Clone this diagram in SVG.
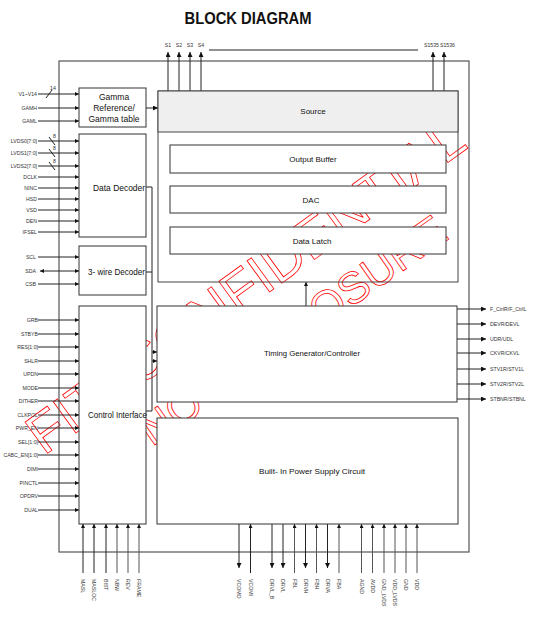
<svg xmlns="http://www.w3.org/2000/svg" width="542" height="623" viewBox="0 0 542 623">
<defs>
<style>
.bx{fill:#fff;stroke:#333;stroke-width:1}
.ln{stroke:#222;stroke-width:1;fill:none}
.lg{stroke:#555;stroke-width:1;fill:none}
.t{font-family:"Liberation Sans",Arial,sans-serif;fill:#111}
.s{font-family:"Liberation Sans",Arial,sans-serif;font-size:5.2px;fill:#333}
.wm{font-family:"Liberation Sans",Arial,sans-serif;fill:none;stroke:#f00;stroke-width:0.8}
</style>
<marker id="as" viewBox="0 0 6 6" refX="6" refY="3" markerWidth="4" markerHeight="4" orient="auto-start-reverse" markerUnits="userSpaceOnUse"><path d="M0,0L6,3L0,6z" fill="#111"/></marker>
<marker id="am" viewBox="0 0 6 6" refX="6" refY="3" markerWidth="6" markerHeight="5" orient="auto-start-reverse" markerUnits="userSpaceOnUse"><path d="M0,0L6,3L0,6z" fill="#111"/></marker>
</defs>
<rect width="542" height="623" fill="#fff"/>
<text class="t" x="248" y="23.5" font-size="16" font-weight="bold" text-anchor="middle" textLength="127" lengthAdjust="spacingAndGlyphs">BLOCK DIAGRAM</text>

<g id="watermark">
<text class="wm" font-size="56" transform="translate(44,456) rotate(-36)">FITI CONFIDENTIAL</text>
<text class="wm" font-size="44" transform="translate(152,447) rotate(-35)">NO DISCLOSURE</text>
</g>

<rect id="frame" x="59" y="61" width="410" height="491" fill="none" stroke="#555" stroke-width="1.2"/>

<g id="connectors">
<line class="ln" x1="38" y1="94" x2="79" y2="94" marker-end="url(#as)"/>
<line class="ln" x1="46" y1="98" x2="52" y2="90"/>
<text class="s" x="50" y="90">14</text>
<line class="ln" x1="38" y1="108" x2="79" y2="108" marker-end="url(#as)"/>
<line class="ln" x1="38" y1="121" x2="79" y2="121" marker-end="url(#as)"/>
<line class="ln" x1="146" y1="108" x2="158" y2="108" marker-end="url(#am)"/>
<line class="ln" x1="38" y1="141" x2="79" y2="141" marker-end="url(#as)"/>
<line class="ln" x1="49" y1="137" x2="55" y2="145"/>
<text class="s" x="53" y="138">8</text>
<line class="ln" x1="38" y1="153" x2="79" y2="153" marker-end="url(#as)"/>
<line class="ln" x1="49" y1="149" x2="55" y2="157"/>
<text class="s" x="53" y="150">8</text>
<line class="ln" x1="38" y1="166" x2="79" y2="166" marker-end="url(#as)"/>
<line class="ln" x1="49" y1="162" x2="55" y2="170"/>
<text class="s" x="53" y="163">8</text>
<line class="ln" x1="38" y1="177" x2="79" y2="177" marker-end="url(#as)"/>
<line class="ln" x1="38" y1="188" x2="79" y2="188" marker-end="url(#as)"/>
<line class="ln" x1="38" y1="199" x2="79" y2="199" marker-end="url(#as)"/>
<line class="ln" x1="38" y1="210" x2="79" y2="210" marker-end="url(#as)"/>
<line class="ln" x1="38" y1="221" x2="79" y2="221" marker-end="url(#as)"/>
<line class="ln" x1="38" y1="232" x2="79" y2="232" marker-end="url(#as)"/>
<line class="ln" x1="38" y1="257" x2="79" y2="257" marker-end="url(#as)"/>
<line class="ln" x1="40" y1="271" x2="79" y2="271" marker-start="url(#as)" marker-end="url(#as)"/>
<line class="ln" x1="38" y1="284" x2="79" y2="284" marker-end="url(#as)"/>
<line class="ln" x1="38" y1="320" x2="79" y2="320" marker-end="url(#as)"/>
<line class="ln" x1="38" y1="334" x2="79" y2="334" marker-end="url(#as)"/>
<line class="ln" x1="38" y1="347" x2="79" y2="347" marker-end="url(#as)"/>
<line class="ln" x1="38" y1="361" x2="79" y2="361" marker-end="url(#as)"/>
<line class="ln" x1="38" y1="374" x2="79" y2="374" marker-end="url(#as)"/>
<line class="ln" x1="38" y1="388" x2="79" y2="388" marker-end="url(#as)"/>
<line class="ln" x1="38" y1="401" x2="79" y2="401" marker-end="url(#as)"/>
<line class="ln" x1="38" y1="415" x2="79" y2="415" marker-end="url(#as)"/>
<line class="ln" x1="38" y1="428" x2="79" y2="428" marker-end="url(#as)"/>
<line class="ln" x1="38" y1="442" x2="79" y2="442" marker-end="url(#as)"/>
<line class="ln" x1="38" y1="455" x2="79" y2="455" marker-end="url(#as)"/>
<line class="ln" x1="38" y1="469" x2="79" y2="469" marker-end="url(#as)"/>
<line class="ln" x1="38" y1="483" x2="79" y2="483" marker-end="url(#as)"/>
<line class="ln" x1="38" y1="496" x2="79" y2="496" marker-end="url(#as)"/>
<line class="ln" x1="38" y1="510" x2="79" y2="510" marker-end="url(#as)"/>
<line class="ln" x1="83" y1="573" x2="83" y2="524" marker-end="url(#as)"/>
<line class="ln" x1="94" y1="573" x2="94" y2="524" marker-end="url(#as)"/>
<line class="ln" x1="106" y1="573" x2="106" y2="524" marker-end="url(#as)"/>
<line class="lg" x1="117" y1="573" x2="117" y2="524" marker-end="url(#as)"/>
<line class="lg" x1="128" y1="573" x2="128" y2="524" marker-end="url(#as)"/>
<line class="lg" x1="139" y1="573" x2="139" y2="524" marker-end="url(#as)"/>
<polyline class="ln" points="146,187 152,187 152,411 146,411"/>
<line class="ln" x1="146" y1="272" x2="152" y2="272"/>
<line class="ln" x1="152" y1="352" x2="157" y2="352" marker-end="url(#as)"/>
<line class="ln" x1="152" y1="361" x2="157" y2="361" marker-end="url(#as)"/>
<line class="ln" x1="306" y1="306" x2="306" y2="282" marker-end="url(#as)"/>
<line class="ln" x1="168" y1="91" x2="168" y2="52" marker-end="url(#am)"/>
<line class="ln" x1="179" y1="91" x2="179" y2="52" marker-end="url(#am)"/>
<line class="ln" x1="190" y1="91" x2="190" y2="52" marker-end="url(#am)"/>
<line class="ln" x1="201" y1="91" x2="201" y2="52" marker-end="url(#am)"/>
<line class="ln" x1="209" y1="50" x2="418" y2="50"/>
<line class="ln" x1="433" y1="91" x2="433" y2="52" marker-end="url(#am)"/>
<line class="ln" x1="444" y1="91" x2="444" y2="52" marker-end="url(#am)"/>
<line class="ln" x1="457" y1="309" x2="486" y2="309" marker-end="url(#am)"/>
<line class="ln" x1="457" y1="324" x2="486" y2="324" marker-end="url(#am)"/>
<line class="ln" x1="457" y1="339" x2="486" y2="339" marker-end="url(#am)"/>
<line class="ln" x1="457" y1="353" x2="486" y2="353" marker-end="url(#am)"/>
<line class="ln" x1="457" y1="369" x2="486" y2="369" marker-end="url(#am)"/>
<line class="ln" x1="457" y1="384" x2="486" y2="384" marker-end="url(#am)"/>
<line class="ln" x1="457" y1="399" x2="486" y2="399" marker-end="url(#am)"/>
<line class="ln" x1="239" y1="524" x2="239" y2="568" marker-end="url(#am)"/>
<line class="ln" x1="250.5" y1="573" x2="250.5" y2="524" marker-end="url(#as)"/>
<line class="ln" x1="272" y1="524" x2="272" y2="568" marker-end="url(#am)"/>
<line class="ln" x1="283" y1="524" x2="283" y2="568" marker-end="url(#am)"/>
<line class="lg" x1="294.5" y1="573" x2="294.5" y2="524" marker-end="url(#as)"/>
<line class="ln" x1="305.5" y1="524" x2="305.5" y2="568" marker-end="url(#am)"/>
<line class="lg" x1="316.5" y1="573" x2="316.5" y2="524" marker-end="url(#as)"/>
<line class="ln" x1="327.5" y1="524" x2="327.5" y2="568" marker-end="url(#am)"/>
<line class="lg" x1="339" y1="573" x2="339" y2="524" marker-end="url(#as)"/>
<line class="lg" x1="361.5" y1="573" x2="361.5" y2="524" marker-end="url(#as)"/>
<line class="lg" x1="372.5" y1="573" x2="372.5" y2="524" marker-end="url(#as)"/>
<line class="lg" x1="384" y1="573" x2="384" y2="524" marker-end="url(#as)"/>
<line class="lg" x1="395" y1="573" x2="395" y2="524" marker-end="url(#as)"/>
<line class="lg" x1="406" y1="573" x2="406" y2="524" marker-end="url(#as)"/>
<line class="lg" x1="417" y1="573" x2="417" y2="524" marker-end="url(#as)"/>
</g>

<g id="pin-labels" class="s">
<g text-anchor="end">
<text x="37" y="96">V1~V14</text>
<text x="37" y="110">GAMH</text>
<text x="37" y="123">GAML</text>
<text x="37" y="143">LVDS0[7:0]</text>
<text x="37" y="155">LVDS1[7:0]</text>
<text x="37" y="168">LVDS2[7:0]</text>
<text x="37" y="179">DCLK</text>
<text x="37" y="190">NINC</text>
<text x="37" y="201">HSD</text>
<text x="37" y="212">VSD</text>
<text x="37" y="223">DEN</text>
<text x="37" y="234">IFSEL</text>
<text x="36" y="259">SCL</text>
<text x="36" y="273">SDA</text>
<text x="36" y="286">CSB</text>
<text x="38" y="322">GRB</text>
<text x="38" y="336">STBYB</text>
<text x="38" y="349">RES[1:0]</text>
<text x="38" y="363">SHLR</text>
<text x="38" y="376">UPDN</text>
<text x="38" y="390">MODE</text>
<text x="38" y="403">DITHER</text>
<text x="38" y="417">CLKPOL</text>
<text x="38" y="430">PWR_EN</text>
<text x="38" y="444">SEL[1:0]</text>
<text x="38" y="457">CABC_EN[1:0]</text>
<text x="38" y="471">DIMI</text>
<text x="38" y="485">PINCTL</text>
<text x="38" y="498">OPDRV</text>
<text x="38" y="512">DUAL</text>
</g>
<g text-anchor="middle">
<text x="168" y="47">S1</text>
<text x="179" y="47">S2</text>
<text x="190" y="47">S3</text>
<text x="201" y="47">S4</text>
</g>
<text x="439" y="47" text-anchor="end">S1535</text>
<text x="440" y="47">S1536</text>
<text x="490" y="311">F_CtrlR/F_CtrlL</text>
<text x="490" y="326">DEVR/DEVL</text>
<text x="490" y="341">UDR/UDL</text>
<text x="490" y="355">CKVR/CKVL</text>
<text x="490" y="371">STV1R/STV1L</text>
<text x="490" y="386">STV2R/STV2L</text>
<text x="490" y="401">STBNR/STBNL</text>
<text transform="translate(83,579) rotate(90)" dy="0.35em">MASL</text>
<text transform="translate(94,579) rotate(90)" dy="0.35em">MASLOC</text>
<text transform="translate(106,579) rotate(90)" dy="0.35em">BIST</text>
<text transform="translate(117,579) rotate(90)" dy="0.35em">NBW</text>
<text transform="translate(128,579) rotate(90)" dy="0.35em">REV</text>
<text transform="translate(139,579) rotate(90)" dy="0.35em">FRAME</text>
<text transform="translate(239,579) rotate(90)" dy="0.35em">VCOMO</text>
<text transform="translate(250.5,579) rotate(90)" dy="0.35em">VCOMI</text>
<text transform="translate(272,579) rotate(90)" dy="0.35em">DRVL_B</text>
<text transform="translate(283,579) rotate(90)" dy="0.35em">DRVL</text>
<text transform="translate(294.5,579) rotate(90)" dy="0.35em">FBL</text>
<text transform="translate(305.5,579) rotate(90)" dy="0.35em">DRVH</text>
<text transform="translate(316.5,579) rotate(90)" dy="0.35em">FBH</text>
<text transform="translate(327.5,579) rotate(90)" dy="0.35em">DRVA</text>
<text transform="translate(339,579) rotate(90)" dy="0.35em">FBA</text>
<text transform="translate(361.5,579) rotate(90)" dy="0.35em">AGND</text>
<text transform="translate(372.5,579) rotate(90)" dy="0.35em">AVDD</text>
<text transform="translate(384,579) rotate(90)" dy="0.35em">GND_LVDS</text>
<text transform="translate(395,579) rotate(90)" dy="0.35em">VDD_LVDS</text>
<text transform="translate(406,579) rotate(90)" dy="0.35em">GND</text>
<text transform="translate(417,579) rotate(90)" dy="0.35em">VDD</text>
</g>

<g id="gamma">
<rect class="bx" x="79" y="88" width="67" height="39"/>
<text class="t" font-size="8.5" text-anchor="middle"><tspan x="114" y="100">Gamma</tspan><tspan x="114" y="111">Reference/</tspan><tspan x="114" y="122">Gamma table</tspan></text>
</g>
<g id="data-decoder">
<rect class="bx" x="79" y="134" width="67" height="103"/>
<text class="t" x="93" y="191" font-size="9" textLength="52" lengthAdjust="spacingAndGlyphs">Data Decoder</text>
</g>
<g id="three-wire">
<rect class="bx" x="79" y="246" width="67" height="49"/>
<text class="t" x="88" y="275" font-size="9" textLength="57" lengthAdjust="spacingAndGlyphs">3- wire Decoder</text>
</g>
<g id="control-interface">
<rect class="bx" x="79" y="306" width="67" height="218"/>
<text class="t" x="88" y="418" font-size="9" textLength="59" lengthAdjust="spacingAndGlyphs">Control Interface</text>
</g>
<g id="source">
<rect x="158" y="91" width="300" height="191" fill="none" stroke="#444" stroke-width="1"/>
<rect x="158" y="91" width="300" height="41" fill="#efefef" stroke="#444" stroke-width="1"/>
<text class="t" x="313" y="114" font-size="8" text-anchor="middle">Source</text>
</g>
<g id="output-buffer">
<rect class="bx" x="170" y="145" width="276" height="28"/>
<text class="t" x="313" y="162" font-size="8" text-anchor="middle">Output Buffer</text>
</g>
<g id="dac">
<rect class="bx" x="170" y="186" width="276" height="27"/>
<text class="t" x="311" y="203" font-size="8" text-anchor="middle">DAC</text>
</g>
<g id="data-latch">
<rect class="bx" x="170" y="227" width="276" height="27"/>
<text class="t" x="312" y="244" font-size="8" text-anchor="middle">Data Latch</text>
</g>
<g id="timing">
<rect class="bx" x="157" y="306" width="300" height="96"/>
<text class="t" x="312" y="356" font-size="8" text-anchor="middle" textLength="96" lengthAdjust="spacingAndGlyphs">Timing Generator/Controller</text>
</g>
<g id="power">
<rect class="bx" x="157" y="418" width="301" height="106"/>
<text class="t" x="312" y="474" font-size="8" text-anchor="middle" textLength="106" lengthAdjust="spacingAndGlyphs">Built-  In Power Supply Circuit</text>
</g>
</svg>
